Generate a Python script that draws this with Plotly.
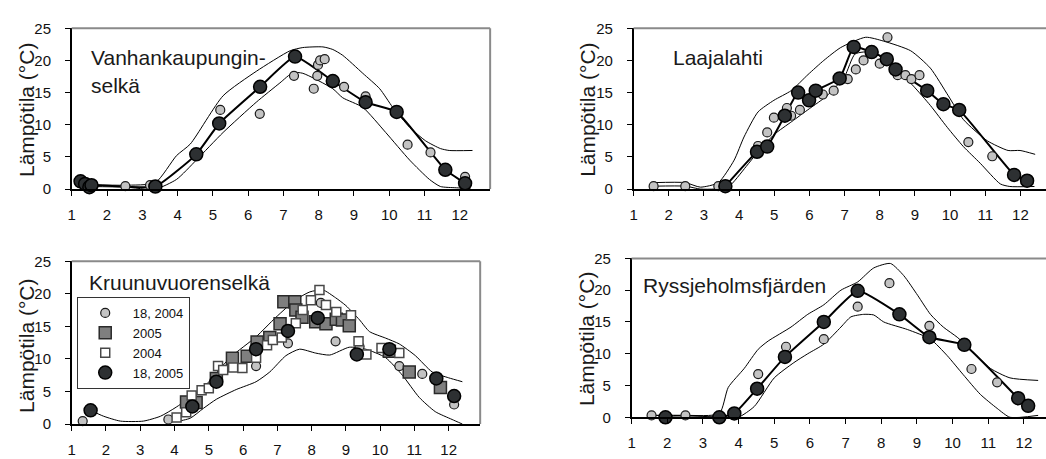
import plotly.graph_objects as go

# ---------------- data: monthly water temperature (°C) ----------------
# Vanhankaupunginselkä
vk_mean_x = [1.25, 1.38, 1.5, 1.56, 3.37, 4.53, 5.18, 6.34, 7.33, 8.40, 9.33, 10.21, 11.59, 12.15]
vk_mean_y = [1.2, 0.8, 0.3, 0.6, 0.4, 5.4, 10.2, 15.9, 20.6, 16.8, 13.5, 12.0, 3.0, 0.9]
vk_obs_x = [2.52, 3.22, 5.21, 6.33, 7.30, 7.86, 7.96, 7.98, 8.04, 8.17, 8.72, 9.33, 10.52, 11.17, 12.15]
vk_obs_y = [0.45, 0.6, 12.3, 11.7, 17.6, 15.6, 17.6, 19.3, 20.0, 20.2, 15.9, 14.4, 6.9, 5.7, 1.9]
vk_hi_x = [1.5, 2.5, 3.37, 3.97, 4.36, 5.29, 6.23, 7.19, 7.55, 8.12, 8.40, 8.68, 9.25, 9.73, 10.10, 10.58, 11.03, 11.45, 11.7, 12.36]
vk_hi_y = [0.7, 0.6, 1.0, 5.2, 7.0, 14.5, 18.3, 21.5, 22.0, 22.1, 21.7, 20.8, 18.0, 15.6, 12.7, 9.6, 7.5, 6.3, 6.0, 6.0]
vk_lo_x = [1.5, 2.5, 3.37, 3.97, 4.53, 5.29, 6.23, 6.9, 7.27, 7.55, 8.4, 8.68, 9.25, 9.9, 10.58, 11.14, 11.45, 11.9, 12.3]
vk_lo_y = [0.4, 0.3, 0.0, 1.5, 4.5, 8.8, 13.5, 16.5, 18.1, 18.0, 15.6, 14.2, 12.7, 8.8, 4.5, 1.5, 0.4, 0.2, 0.1]

# Laajalahti
la_mean_x = [3.61, 4.51, 4.80, 5.30, 5.68, 5.99, 6.18, 6.86, 7.26, 7.77, 8.2, 8.45, 9.35, 9.81, 10.26, 11.82, 12.19]
la_mean_y = [0.45, 5.8, 6.6, 11.4, 15.0, 13.8, 15.3, 17.2, 22.1, 21.3, 20.2, 18.6, 15.3, 13.2, 12.3, 2.2, 1.3]
la_obs_x = [1.57, 2.47, 3.41, 4.54, 4.80, 4.99, 5.36, 5.48, 5.73, 6.38, 6.69, 7.09, 7.32, 7.54, 8.0, 8.22, 8.51, 8.73, 8.9, 9.13, 10.52, 11.2]
la_obs_y = [0.45, 0.45, 0.45, 6.7, 8.8, 11.1, 12.6, 11.4, 12.3, 14.7, 15.3, 17.1, 18.6, 20.0, 19.5, 23.6, 17.7, 17.7, 17.1, 17.7, 7.3, 5.1]
la_hi_x = [1.57, 2.47, 2.9, 3.41, 3.86, 4.14, 4.54, 4.99, 5.48, 5.96, 6.41, 6.89, 7.6, 8.11, 8.88, 9.44, 9.95, 10.38, 11.06, 11.65, 11.99, 12.42]
la_hi_y = [1.0, 1.0, 0.3, 1.0, 4.5, 8.1, 12.0, 13.8, 15.3, 17.8, 20.0, 22.0, 23.6, 23.0, 21.5, 18.8, 14.5, 10.8, 7.5, 6.0, 6.0, 5.4]
la_lo_x = [1.57, 2.47, 2.9, 3.3, 3.69, 4.2, 4.54, 5.0, 5.5, 6.0, 6.5, 7.0, 7.3, 7.8, 8.2, 8.5, 8.96, 9.44, 9.92, 10.38, 10.86, 11.43, 11.7, 12.4]
la_lo_y = [0.45, 0.45, 0.0, 0.0, 0.3, 3.5, 5.8, 8.5, 10.5, 12.5, 14.5, 17.5, 21.0, 21.3, 19.8, 18.5, 16.0, 13.0, 9.6, 6.6, 4.0, 0.8, 0.4, 0.4]

# Kruunuvuorenselkä
kr_c04_x = [1.32, 3.82, 6.38, 7.31, 8.27, 8.70, 9.40, 10.56, 11.23, 12.16]
kr_c04_y = [0.45, 0.7, 8.9, 12.4, 18.6, 12.7, 11.9, 8.9, 7.7, 3.0]
kr_s05_x = [4.35, 4.63, 5.22, 5.69, 6.12, 6.41, 6.78, 7.08, 7.19, 7.51, 7.54, 7.72, 8.12, 8.42, 8.72, 8.9, 9.1, 10.27, 10.85, 11.76]
kr_s05_y = [3.4, 3.3, 7.0, 10.1, 10.4, 12.6, 13.3, 15.4, 18.8, 18.8, 17.5, 16.4, 15.7, 15.4, 16.1, 16.0, 15.1, 11.2, 8.0, 5.6]
kr_s04_x = [4.06, 4.34, 4.5, 4.79, 5.0, 5.27, 5.42, 5.71, 5.98, 6.38, 6.70, 6.87, 7.13, 7.54, 7.74, 7.98, 8.23, 8.42, 8.72, 9.15, 9.37, 9.60, 10.04, 10.56]
kr_s04_y = [1.0, 1.8, 4.4, 5.2, 5.5, 8.9, 8.3, 8.7, 8.6, 10.2, 12.1, 12.9, 13.3, 15.5, 17.5, 19.0, 20.6, 18.3, 17.2, 16.7, 12.7, 10.7, 11.7, 10.9]
kr_c05_x = [1.55, 4.52, 5.22, 6.38, 7.31, 8.18, 9.32, 10.27, 11.64, 12.16]
kr_c05_y = [2.1, 2.7, 6.5, 11.5, 14.3, 16.3, 10.7, 11.5, 7.0, 4.3]
kr_hi_x = [1.55, 1.93, 2.42, 3.09, 3.59, 4.05, 4.84, 5.62, 6.38, 6.96, 7.54, 7.95, 8.33, 8.7, 9.0, 9.40, 9.69, 10.16, 10.56, 11.03, 11.52, 12.0, 12.4]
kr_hi_y = [2.1, 1.2, 0.45, 0.45, 1.2, 2.6, 5.6, 10.2, 13.4, 16.4, 19.1, 20.3, 20.6, 19.4, 18.2, 16.0, 14.2, 13.2, 12.3, 10.5, 8.0, 7.1, 6.5]
kr_lo_x = [3.77, 4.06, 4.46, 4.84, 5.22, 5.80, 6.38, 6.78, 7.25, 7.65, 8.12, 8.53, 9.1, 9.58, 10.16, 10.65, 11.14, 11.61, 12.1, 12.4]
kr_lo_y = [0.45, 0.4, 0.9, 2.4, 3.8, 5.3, 6.5, 8.0, 10.5, 11.5, 10.9, 10.6, 11.8, 11.5, 10.2, 7.5, 4.1, 1.9, 0.7, 0.0]

# Ryssjeholmsfjärden
ry_mean_x = [1.95, 3.46, 3.88, 4.52, 5.30, 6.39, 7.34, 8.51, 9.35, 10.33, 11.84, 12.12]
ry_mean_y = [0.0, 0.0, 0.6, 4.5, 9.5, 15.0, 19.9, 16.2, 12.6, 11.4, 3.0, 1.8]
ry_obs_x = [1.56, 2.51, 4.55, 5.33, 6.39, 7.34, 8.23, 9.35, 10.53, 11.25]
ry_obs_y = [0.3, 0.3, 6.8, 11.1, 12.3, 17.4, 21.1, 14.4, 7.6, 5.5]
ry_hi_x = [1.56, 2.51, 3.46, 3.71, 4.16, 4.55, 4.83, 5.47, 5.94, 6.39, 6.87, 7.34, 7.79, 8.26, 8.63, 9.02, 9.38, 9.74, 10.13, 10.5, 11.06, 11.61, 12.4]
ry_hi_y = [0.3, 0.3, 0.6, 4.7, 7.7, 10.7, 12.0, 14.2, 16.2, 17.7, 20.0, 21.3, 23.5, 24.2, 22.3, 19.2, 16.2, 14.2, 12.6, 10.7, 7.7, 6.2, 5.8]
ry_lo_x = [1.56, 2.51, 3.46, 3.99, 4.44, 5.0, 5.55, 5.94, 6.39, 6.87, 7.15, 7.51, 7.79, 8.07, 8.74, 9.38, 9.85, 10.3, 10.78, 11.25, 11.61, 12.4]
ry_lo_y = [0.3, 0.3, 0.0, 0.0, 1.7, 6.2, 8.6, 10.0, 11.5, 14.2, 15.8, 16.2, 16.1, 15.0, 13.8, 12.3, 9.7, 6.7, 3.6, 1.4, 0.0, 0.3]

month_ticks = list(range(1, 13))
temp_ticks = [0, 5, 10, 15, 20, 25]

W, H = 1046, 459
FONT = "Liberation Sans, Arial, sans-serif"

DARK = "#2d3032"
LIGHT = "#c3c3c3"

fig = go.Figure()


def env(x, y, xa, ya):
    fig.add_trace(go.Scatter(x=x, y=y, xaxis=xa, yaxis=ya, mode="lines",
                             line=dict(color="black", width=1, shape="spline", smoothing=0.6),
                             showlegend=False, hoverinfo="skip", cliponaxis=False))


def mean_line(x, y, xa, ya):
    fig.add_trace(go.Scatter(x=x, y=y, xaxis=xa, yaxis=ya, mode="lines",
                             line=dict(color="black", width=2, shape="spline", smoothing=0.4),
                             showlegend=False, hoverinfo="skip", cliponaxis=False))


def pts(x, y, xa, ya, symbol, size, fill, edge, ew, name=None, legend=False):
    fig.add_trace(go.Scatter(x=x, y=y, xaxis=xa, yaxis=ya, mode="markers", name=name,
                             marker=dict(symbol=symbol, size=size, color=fill,
                                         line=dict(color=edge, width=ew)),
                             showlegend=legend, cliponaxis=False))


# panel 1
env(vk_hi_x, vk_hi_y, "x", "y")
env(vk_lo_x, vk_lo_y, "x", "y")
mean_line(vk_mean_x, vk_mean_y, "x", "y")
pts(vk_obs_x, vk_obs_y, "x", "y", "circle", 9, LIGHT, "#1a1a1a", 1.2)
pts(vk_mean_x, vk_mean_y, "x", "y", "circle", 13, DARK, "black", 1.5)

# panel 2
env(la_hi_x, la_hi_y, "x2", "y2")
env(la_lo_x, la_lo_y, "x2", "y2")
mean_line(la_mean_x, la_mean_y, "x2", "y2")
pts(la_obs_x, la_obs_y, "x2", "y2", "circle", 9, LIGHT, "#1a1a1a", 1.2)
pts(la_mean_x, la_mean_y, "x2", "y2", "circle", 13, DARK, "black", 1.5)

# panel 3
env(kr_hi_x, kr_hi_y, "x3", "y3")
env(kr_lo_x, kr_lo_y, "x3", "y3")
pts(kr_c04_x, kr_c04_y, "x3", "y3", "circle", 9, LIGHT, "#1a1a1a", 1.2, "18, 2004", True)
pts(kr_s05_x, kr_s05_y, "x3", "y3", "square", 12, "#7f7f7f", "#2a2a2a", 1.5, "2005", True)
pts(kr_s04_x, kr_s04_y, "x3", "y3", "square", 9, "white", "#484848", 1.5, "2004", True)
pts(kr_c05_x, kr_c05_y, "x3", "y3", "circle", 13, DARK, "black", 1.5, "18, 2005", True)

# panel 4
env(ry_hi_x, ry_hi_y, "x4", "y4")
env(ry_lo_x, ry_lo_y, "x4", "y4")
mean_line(ry_mean_x, ry_mean_y, "x4", "y4")
pts(ry_obs_x, ry_obs_y, "x4", "y4", "circle", 9, LIGHT, "#1a1a1a", 1.2)
pts(ry_mean_x, ry_mean_y, "x4", "y4", "circle", 13, DARK, "black", 1.5)

# ---------------- panel geometry (pixels) ----------------
panels = [
    # left, right, top, bottom(y=0), x range max
    dict(l=68, r=488, t=20, b=187, xmax=12.86, frame_right=True),
    dict(l=632, r=1046, t=20, b=187, xmax=1 + (1046 - 632) / 35.3, frame_right=False),
    dict(l=68, r=478, t=262, b=431, xmax=12.92, frame_right=True),
    dict(l=630, r=1046, t=259, b=424, xmax=1 + (1046 - 630) / 35.8, frame_right=False),
]

tickfont = dict(family=FONT, size=15, color="#111111")
layout = dict(width=W, height=H, margin=dict(l=0, r=0, t=0, b=0),
              paper_bgcolor="white", plot_bgcolor="white", showlegend=True)
shapes = []
for i, p in enumerate(panels, start=1):
    sfx = "" if i == 1 else str(i)
    xd = [p["l"] / W, p["r"] / W]
    yd = [1 - p["b"] / H, 1 - p["t"] / H]
    layout["xaxis" + sfx] = dict(domain=xd, range=[1, p["xmax"]], anchor="y" + sfx,
                                 tickvals=month_ticks, ticks="outside", ticklen=5, tickwidth=1,
                                 tickcolor="black", showline=True, linecolor="black", linewidth=1.5,
                                 showgrid=False, zeroline=False, tickfont=tickfont,
                                 ticklabelstandoff=6, fixedrange=True)
    layout["yaxis" + sfx] = dict(domain=yd, range=[0, 25], anchor="x" + sfx,
                                 tickvals=temp_ticks, ticks="outside", ticklen=5, tickwidth=1,
                                 tickcolor="black", showline=True, linecolor="black", linewidth=1.5,
                                 showgrid=False, zeroline=False, tickfont=tickfont,
                                 ticklabelstandoff=11, fixedrange=True)
    # grey frame on the top (and right where the panel ends inside the page)
    shapes.append(dict(type="line", xref="paper", yref="paper", x0=xd[0], x1=xd[1],
                       y0=yd[1], y1=yd[1], line=dict(color="#8a8a8a", width=2)))
    if p["frame_right"]:
        shapes.append(dict(type="line", xref="paper", yref="paper", x0=xd[1], x1=xd[1],
                           y0=yd[0], y1=yd[1], line=dict(color="#8a8a8a", width=2)))

layout["shapes"] = shapes

title_font = dict(family=FONT, size=21, color="#1a1a1a")
ann = []


def label(text, px, py, **kw):
    ann.append(dict(text=text, x=px / W, y=1 - py / H, xref="paper", yref="paper",
                    showarrow=False, font=title_font, **kw))


label("Vanhankaupungin-", 85, 50, xanchor="left", yanchor="middle")
label("selkä", 85, 79, xanchor="left", yanchor="middle")
label("Laajalahti", 670, 50, xanchor="left", yanchor="middle")
label("Kruunuvuorenselkä", 83, 284, xanchor="left", yanchor="middle")
label("Ryssjeholmsfjärden", 639, 287, xanchor="left", yanchor="middle")

for cx, cy in [(22, 105), (585, 105), (22, 350), (585, 343)]:
    label("Lämpötila (°C)", cx, cy, xanchor="center", yanchor="middle", textangle=-90)

layout["annotations"] = ann
layout["legend"] = dict(x=73 / W, y=1 - 299 / H, xanchor="left", yanchor="top",
                        bgcolor="white", bordercolor="#333333", borderwidth=1,
                        font=dict(family=FONT, size=13, color="#111111"),
                        itemwidth=45, tracegroupgap=0)

fig.update_layout(**layout)
fig.write_html("out.html")
